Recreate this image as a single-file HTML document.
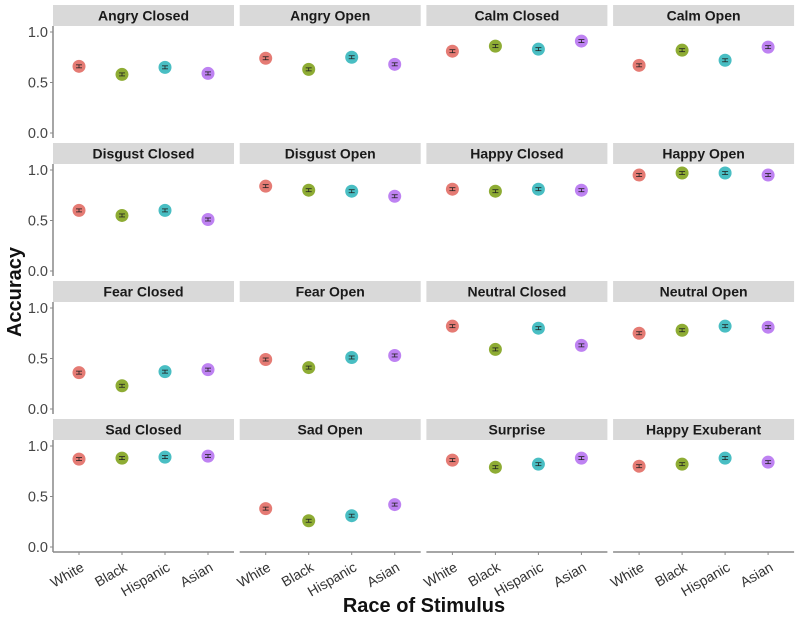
<!DOCTYPE html>
<html><head><meta charset="utf-8"><style>
html,body{margin:0;padding:0;background:#fff;}
svg{display:block;font-family:"Liberation Sans",Arial,sans-serif;}
</style></head><body>
<svg id="chart" width="800" height="617" viewBox="0 0 800 617"></svg>
<script>
const panelTitles = ["Angry Closed","Angry Open","Calm Closed","Calm Open","Disgust Closed","Disgust Open","Happy Closed","Happy Open","Fear Closed","Fear Open","Neutral Closed","Neutral Open","Sad Closed","Sad Open","Surprise","Happy Exuberant"];
const categories = ["White","Black","Hispanic","Asian"];
const accuracy = [
 [0.66,0.58,0.65,0.59],[0.74,0.63,0.75,0.68],[0.81,0.86,0.83,0.91],[0.67,0.82,0.72,0.85],
 [0.60,0.55,0.60,0.51],[0.84,0.80,0.79,0.74],[0.81,0.79,0.81,0.80],[0.95,0.97,0.97,0.95],
 [0.36,0.23,0.37,0.39],[0.49,0.41,0.51,0.53],[0.82,0.59,0.80,0.63],[0.75,0.78,0.82,0.81],
 [0.87,0.88,0.89,0.90],[0.38,0.26,0.31,0.42],[0.86,0.79,0.82,0.88],[0.80,0.82,0.88,0.84]
];
const yTicks = [0,0.5,1];
const yTickLabels = ["0.0","0.5","1.0"];
const colors = ["#e0645c","#7a9e10","#29b3b8","#b36cf0"];

const svg = document.getElementById('chart');
const NS = "http://www.w3.org/2000/svg";
function mk(tag, attrs, parent){const e=document.createElementNS(NS,tag);for(const k in attrs)e.setAttribute(k,attrs[k]);(parent||svg).appendChild(e);return e;}
const colX0 = 53, colPitch = 186.7, pw = 181, rowY0 = 5, rowPitch = 138, stripH = 21, plotH = 112;
function yScale(v, top){ return top + 107 - v*101; }
function xScale(i, left){ return left + 26 + i*43; }

panelTitles.forEach((t, p) => {
  const c = p % 4, r = Math.floor(p / 4);
  const left = colX0 + c*colPitch, sTop = rowY0 + r*rowPitch, top = sTop + stripH;
  const g = mk('g', {});
  
  
  const strip = mk('rect', {x:left, y:sTop, width:pw, height:stripH, fill:'#d9d9d9'}, g);
  
  
  const st = mk('text', {x:left+pw/2, y:sTop+15.5, 'text-anchor':'middle', 'font-size':14, 'font-weight':'bold', fill:'#1a1a1a'}, g);
  st.textContent = t;
  
  
  if (c === 0) {
    mk('line', {x1:left, x2:left, y1:top, y2:top+plotH, stroke:'#888', 'stroke-width':1.5}, g);
    yTicks.forEach((v, i) => {
      const y = yScale(v, top);
      mk('line', {x1:left-3, x2:left, y1:y, y2:y, stroke:'#888'}, g);
      const tl = mk('text', {x:left-5, y:y+5, 'text-anchor':'end', 'font-size':14.5, fill:'#444'}, g);
      tl.textContent = yTickLabels[i];
      
      
    });
  }
  if (r === 3) {
    mk('line', {x1:left, x2:left+pw, y1:top+plotH, y2:top+plotH, stroke:'#888', 'stroke-width':1.5}, g);
    categories.forEach((cat, i) => {
      const x = xScale(i, left);
      mk('line', {x1:x, x2:x, y1:top+plotH, y2:top+plotH+3, stroke:'#888'}, g);
      const tl = mk('text', {x:x+6, y:top+plotH+18, 'text-anchor':'end', 'font-size':14, fill:'#333', transform:`rotate(-30 ${x+6} ${top+plotH+18})`}, g);
      tl.textContent = cat;
      
      
    });
  }
  accuracy[p].forEach((v, i) => {
    const x = xScale(i, left), y = yScale(v, top);
    const pt = mk('circle', {cx:x, cy:y, r:6.5, fill:colors[i], 'fill-opacity':0.85}, g);
    
    
    mk('line', {x1:x-3, x2:x+3, y1:y-1.5, y2:y-1.5, stroke:'#222', 'stroke-width':0.8}, g);
    mk('line', {x1:x-3, x2:x+3, y1:y+1.5, y2:y+1.5, stroke:'#222', 'stroke-width':0.8}, g);
    mk('line', {x1:x, x2:x, y1:y-1.5, y2:y+1.5, stroke:'#222', 'stroke-width':0.8}, g);
  });
});
const yt = mk('text', {x:21, y:292, 'text-anchor':'middle', 'font-size':20, 'font-weight':'bold', fill:'#111', transform:'rotate(-90 21 292)'});
yt.textContent = 'Accuracy';


const xt = mk('text', {x:424, y:612, 'text-anchor':'middle', 'font-size':20, 'font-weight':'bold', fill:'#111'});
xt.textContent = 'Race of Stimulus';


</script>
</body></html>
